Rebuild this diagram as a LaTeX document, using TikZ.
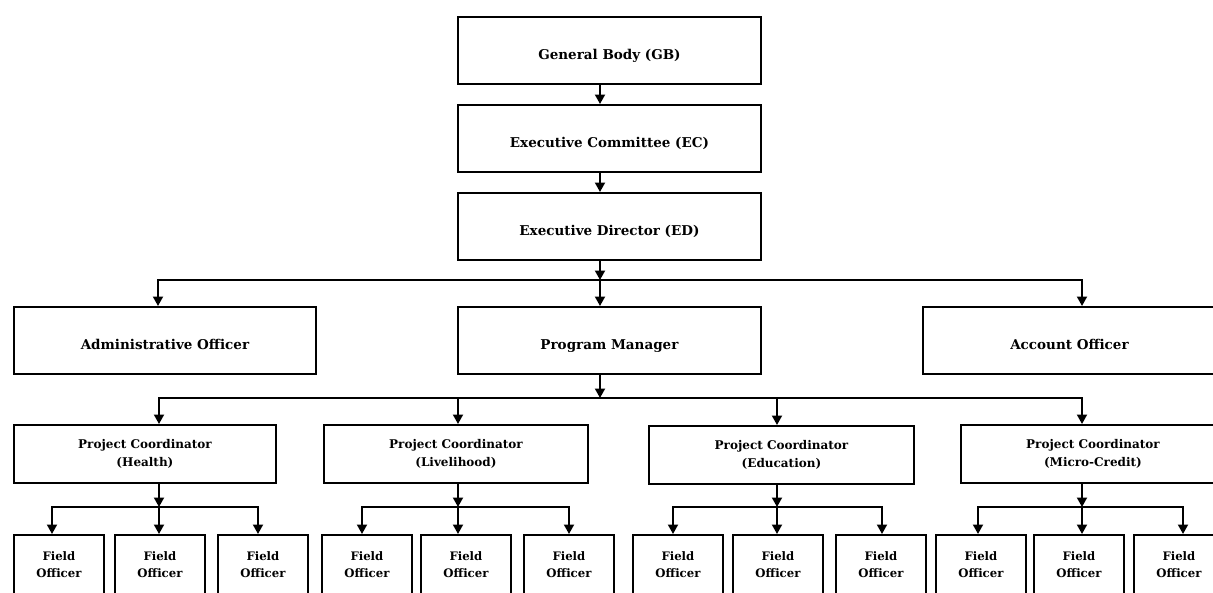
\documentclass[tikz,border=0pt]{standalone}
\usepackage{fontspec}
\setmainfont{DejaVu Serif}
\usetikzlibrary{arrows.meta}
\begin{document}
\begin{tikzpicture}[x=1pt,y=-1pt,
  box/.style={draw,line width=1.9pt,rectangle,anchor=north west,inner sep=0pt},
  topbox/.style={box,minimum height=67pt,font=\bfseries\fontsize{13.5}{16}\selectfont,
    text height=19pt,text depth=0pt},
  pcbox/.style={box,minimum height=58pt,align=center,font=\bfseries\fontsize{12}{18}\selectfont},
  fobox/.style={box,minimum height=60pt,minimum width=90pt,align=center,
    font=\bfseries\fontsize{11.7}{17}\selectfont},
  conn/.style={line width=1.9pt},
  arr/.style={conn,-{Triangle[width=10pt,length=9.5pt]}}]
\clip (0,0) rectangle (1213,592);

% governance chain
\node[topbox,minimum width=303pt] (gb) at (457,16) {General Body (GB)};
\node[topbox,minimum width=303pt] (ec) at (457,104) {Executive Committee (EC)};
\node[topbox,minimum width=303pt] (ed) at (457,192) {Executive Director (ED)};

% second level
\node[topbox,minimum width=302pt] (adm) at (13,306) {Administrative Officer};
\node[topbox,minimum width=303pt] (pm) at (457,306) {Program Manager};
\node[topbox,minimum width=293pt] (acc) at (922,306) {Account Officer};

% project coordinators
\node[pcbox,minimum width=262pt] (pc1) at (13,424) {Project Coordinator\\(Health)};
\node[pcbox,minimum width=264pt] (pc2) at (323,424) {Project Coordinator\\(Livelihood)};
\node[pcbox,minimum width=265pt] (pc3) at (648,425) {Project Coordinator\\(Education)};
\node[pcbox,minimum width=264pt] (pc4) at (960,424) {Project Coordinator\\(Micro-Credit)};

% field officers
\foreach \n/\x in {11/13,12/114,13/217,21/321,22/420,23/523,31/632,32/732,33/835,41/935,42/1033,43/1133}
  \node[fobox] (fo\n) at (\x,534) {Field\\Officer};

% spine and branch points
\coordinate (sp) at (600,0);
\coordinate (b1) at (600,280);
\coordinate (b2) at (600,398);
\coordinate (ca) at (158,0);
\coordinate (cb) at (1082,0);

\draw[arr] (gb.south -| sp) -- (ec.north -| sp);
\draw[arr] (ec.south -| sp) -- (ed.north -| sp);
\draw[arr] (ed.south -| sp) -- (b1);
\draw[arr] (b1) -| (adm.north -| ca);
\draw[arr] (b1) -| (acc.north -| cb);
\draw[arr] (b1) -- (pm.north -| sp);

\draw[arr] (pm.south -| sp) -- (b2);
\coordinate (p1) at (159,0);
\coordinate (p2) at (458,0);
\coordinate (p3) at (777,0);
\coordinate (p4) at (1082,0);
\draw[arr] (b2) -| (pc1.north -| p1);
\draw[arr] (b2) -| (pc4.north -| p4);
\draw[arr] (b2 -| p2) -- (pc2.north -| p2);
\draw[arr] (b2 -| p3) -- (pc3.north -| p3);

% coordinator to field officers
\foreach \g/\c/\l/\r in {1/159/52/258,2/458/362/569,3/777/673/882,4/1082/978/1183} {
  \coordinate (g\g) at (\c,507);
  \coordinate (gl\g) at (\l,0);
  \coordinate (gr\g) at (\r,0);
  \draw[arr] (pc\g.south -| g\g) -- (g\g);
  \draw[arr] (g\g) -| (fo\g1.north -| gl\g);
  \draw[arr] (g\g) -| (fo\g3.north -| gr\g);
  \draw[arr] (g\g) -- (fo\g2.north -| g\g);
}
\end{tikzpicture}
\end{document}
